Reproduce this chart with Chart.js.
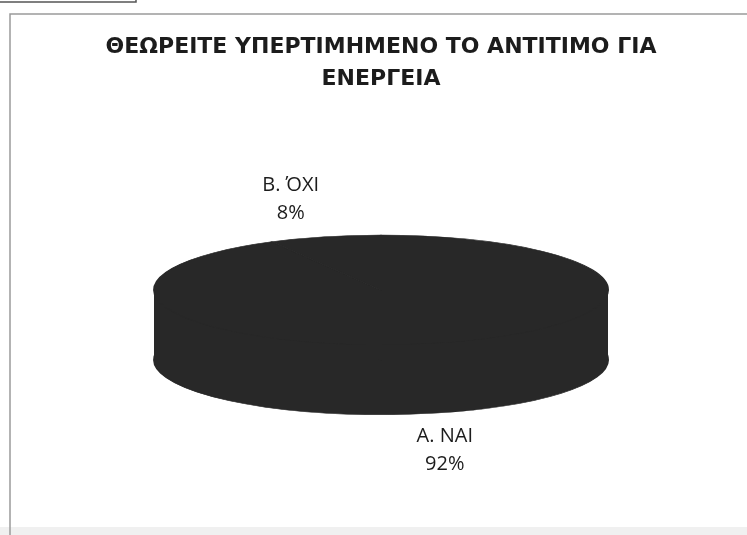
<!DOCTYPE html>
<html lang="el">
<head>
<meta charset="UTF-8">
<title>Αντίτιμο ενέργειας</title>
<script src="https://cdn.jsdelivr.net/npm/chart.js@4.4.1/dist/chart.umd.min.js"></script>
<style>
    html, body { margin: 0; padding: 0; background: #fff; }
    #wrap { width: 747px; height: 535px; }
</style>
</head>
<body>
<div id="wrap"><canvas id="pie"></canvas></div>
<script>
    var titleLines = ['ΘΕΩΡΕΙΤΕ ΥΠΕΡΤΙΜΗΜΕΝΟ ΤΟ ΑΝΤΙΤΙΜΟ ΓΙΑ', 'ΕΝΕΡΓΕΙΑ'];
    var categories = ['Α. ΝΑΙ', 'Β. ΌΧΙ'];
    var percents = [92, 8];

    var sliceColor = '#282828';
    var squash = 0.242;   // vertical flattening of the disc
    var depth = 70;       // thickness of the disc, px
    var labelSpread = [1.13, 1.6];
    var labelGap = 37;

    // paper frame around the chart
    var framePlugin = {
        id: 'frame',
        beforeDraw: function (chart) {
            var c = chart.ctx;
            c.save();
            c.fillStyle = '#fff';
            c.fillRect(0, 0, chart.width, chart.height);
            c.fillStyle = '#f0f0f0';
            c.fillRect(0, 527, chart.width, 8);
            c.strokeStyle = '#9a9a9a';
            c.lineWidth = 1.5;
            c.beginPath();
            c.moveTo(10, chart.height);
            c.lineTo(10, 14);
            c.lineTo(chart.width, 14);
            c.stroke();
            c.strokeStyle = '#555';
            c.lineWidth = 1.5;
            c.beginPath();
            c.moveTo(0, 2);
            c.lineTo(136, 2);
            c.lineTo(136, 0);
            c.stroke();
            c.restore();
        }
    };

    // flatten the pie into an ellipse and give it a solid side wall
    var discPlugin = {
        id: 'disc',
        beforeDatasetsDraw: function (chart) {
            var c = chart.ctx;
            var arcs = chart.getDatasetMeta(0).data;
            var cx = arcs[0].x, cy = arcs[0].y, r = arcs[0].outerRadius;
            c.save();
            c.translate(cx, cy);
            c.scale(1, squash);
            c.translate(-cx, -cy);
            // bottom face
            c.save();
            c.translate(0, depth / squash);
            arcs.forEach(function (a) { a.draw(c); });
            c.restore();
            // side wall between the two faces
            c.fillStyle = sliceColor;
            c.fillRect(cx - r, cy, 2 * r, depth / squash);
        },
        afterDatasetsDraw: function (chart) {
            var c = chart.ctx;
            c.restore();
            var arcs = chart.getDatasetMeta(0).data;
            c.save();
            c.fillStyle = '#1c1c1c';
            c.font = '20px "Open Sans"';
            c.textAlign = 'center';
            c.textBaseline = 'middle';
            arcs.forEach(function (a, i) {
                var mid = (a.startAngle + a.endAngle) / 2;
                var s = Math.sin(mid);
                var x = a.x + Math.cos(mid) * a.outerRadius * labelSpread[i];
                var y = a.y + s * a.outerRadius * squash + (s > 0 ? depth : 0) + Math.sign(s) * labelGap;
                c.fillText(categories[i], x, y - 14);
                c.fillText(percents[i] + '%', x, y + 14);
            });
            c.restore();
        }
    };

    new Chart(document.getElementById('pie'), {
        type: 'pie',
        data: {
            labels: categories,
            datasets: [{
                data: percents,
                backgroundColor: [sliceColor, sliceColor],
                borderColor: sliceColor,
                borderWidth: 2,
                borderJoinStyle: 'round',
                radius: 227
            }]
        },
        options: {
            responsive: true,
            maintainAspectRatio: false,
            animation: false,
            events: [],
            layout: { padding: { top: 21, bottom: 60, left: 20, right: 5 } },
            plugins: {
                legend: { display: false },
                tooltip: { enabled: false },
                title: {
                    display: true,
                    text: titleLines,
                    color: '#1c1c1c',
                    font: { family: 'DejaVu Sans', size: 22, weight: 'bold', lineHeight: 1.45 },
                    padding: { top: 10, bottom: 10 }
                }
            }
        },
        plugins: [framePlugin, discPlugin]
    });
</script>
</body>
</html>
